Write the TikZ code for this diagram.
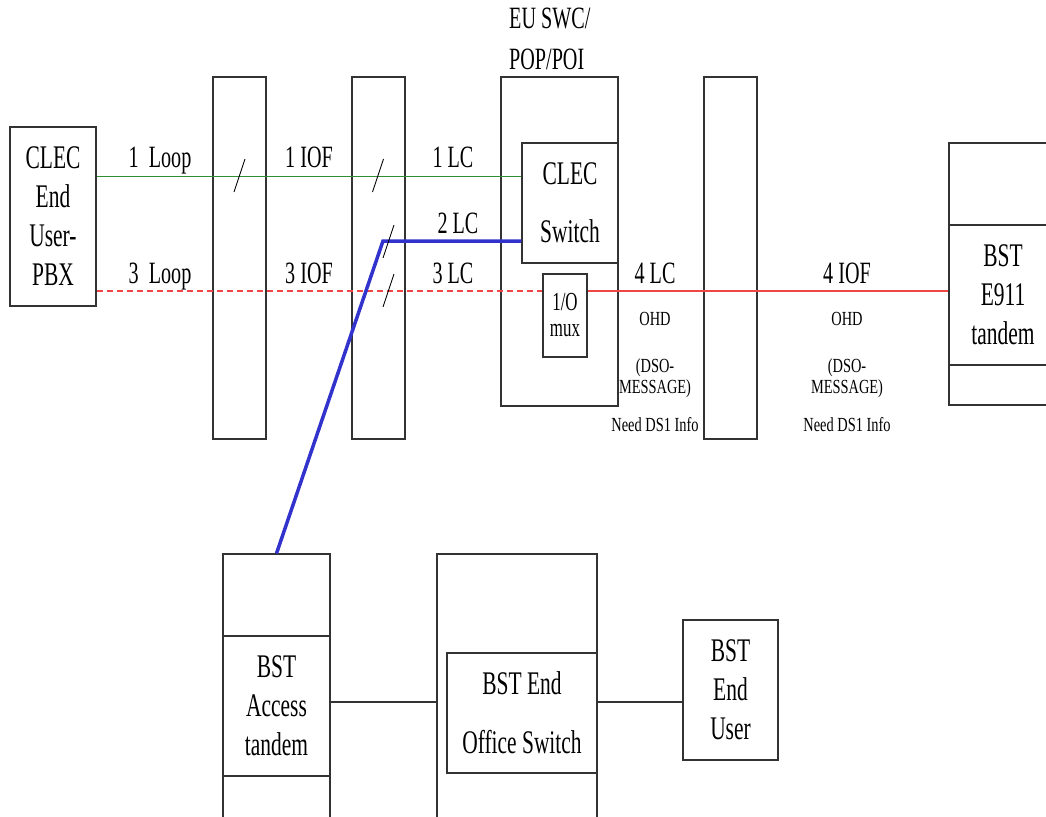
\documentclass[tikz,border=0pt]{standalone}
\usepackage{fontspec}
\setmainfont{Liberation Serif}[FakeStretch=0.65]
\newfontfamily\notefont{Liberation Serif}[FakeStretch=0.72]
\usetikzlibrary{positioning,calc}

\begin{document}
\begin{tikzpicture}[x=1pt,y=-1pt,
    box/.style={draw=black!80,line width=1.2pt,rectangle,inner sep=0pt,align=center,font=\fontsize{33}{39}\selectfont},
    lbl/.style={anchor=base,inner sep=0pt,font=\fontsize{31}{37}\selectfont},
    note/.style={anchor=base,inner sep=0pt,font=\notefont\fontsize{20}{24}\selectfont},
    wire/.style={draw=black!80,line width=1.2pt},
    loopA/.style={draw={rgb,255:red,50;green,140;blue,50},line width=1pt},
    loopB/.style={draw={rgb,255:red,240;green,70;blue,70},line width=1.6pt},
    trunk/.style={draw={rgb,255:red,50;green,50;blue,205},line width=3.5pt,line join=miter},
    slash/.style={draw=black,line width=0.9pt}]
    \useasboundingbox (0,0) rectangle (1046,816);
    \clip (0,0) rectangle (1046,816);

    % CLEC side
    \node[box,minimum width=86pt,minimum height=179pt] (eu) at (53,216.5) {CLEC\\End\\User-\\PBX};
    \node[box,minimum width=53pt,minimum height=362pt] (t1) at (239.5,258) {};
    \node[box,minimum width=53pt,minimum height=362pt] (t2) at (378.5,258) {};

    % EU SWC/POP/POI
    \node[lbl,anchor=base west] (swctitle) at (509,29) {EU SWC/};
    \node[lbl,anchor=base west] (poptitle) at (509,70) {POP/POI};
    \node[box,minimum width=117pt,minimum height=329pt] (swc) at (559.5,241.5) {};
    \node[box,minimum width=96pt,minimum height=120pt] (csw) at (570,203) {CLEC\\[19pt]Switch};
    \node[box,minimum width=44pt,minimum height=83pt,font=\fontsize{26}{26}\selectfont] (mux) at (565,315.5) {1/O\\mux};

    % towards E911
    \node[box,minimum width=53pt,minimum height=362pt] (t3) at (730.5,258) {};
    \node[box,minimum width=108pt,minimum height=262pt] (e911) at (1003,274) {};
    \node[box,minimum width=108pt,minimum height=140pt] (e911in) at (1003,295) {BST\\E911\\tandem};

    % BST side
    \node[box,minimum width=107pt,minimum height=296pt] (acc) at (276.5,702) {};
    \node[box,minimum width=107pt,minimum height=140pt] (accin) at (276.5,706) {BST\\Access\\tandem};
    \node[box,minimum width=160pt,minimum height=296pt] (eo) at (517,702) {};
    \node[box,minimum width=150pt,minimum height=120pt] (eoin) at (522,713) {BST End\\[20pt]Office Switch};
    \node[box,minimum width=95pt,minimum height=140pt] (user) at (730.5,690) {BST\\End\\User};

    % trunks
    \coordinate (g) at (0,176);
    \coordinate (r) at (0,291);
    \coordinate (bend) at (383,241);
    \draw[loopA] (eu.east |- g) -- (csw.west |- g);
    \draw[loopB,dash pattern=on 6pt off 4pt] (eu.east |- r) -- (mux.west |- r);
    \draw[loopB] (mux.east |- r) -- (e911.west |- r);
    \draw[trunk] (csw.west |- bend) -- (bend) -- (acc.north);
    \draw[wire] (acc.east) -- (eo.west);
    \draw[wire] (eo.east) -- (eo.east -| user.west);

    % slashes
    \foreach \p in {(239.5,175.5),(378,175.5),(388.5,241.5),(388.5,290.5)}
        \draw[slash] \p ++(-5.5,16.5) -- ++(11,-33);

    % trunk labels
    \node[lbl] (l1) at (160,167) {1\ \ Loop};
    \node[lbl] (i1) at (309,167) {1 IOF};
    \node[lbl] (c1) at (453,167) {1 LC};
    \node[lbl] (c2) at (458,233) {2 LC};
    \node[lbl] (l3) at (160,283) {3\ \ Loop};
    \node[lbl] (i3) at (309,283) {3 IOF};
    \node[lbl] (c3) at (453,283) {3 LC};
    \node[lbl] (c4) at (655,283) {4 LC};
    \node[lbl] (i4) at (847,283) {4 IOF};

    % notes
    \node[note] (ohdA) at (655,325) {OHD};
    \node[note] (dsoA) at (655,372) {(DSO-};
    \node[note] (msgA) at (655,393) {MESSAGE)};
    \node[note] (ds1A) at (655,431) {Need DS1 Info};
    \node[note] (ohdB) at (847,325) {OHD};
    \node[note] (dsoB) at (847,372) {(DSO-};
    \node[note] (msgB) at (847,393) {MESSAGE)};
    \node[note] (ds1B) at (847,431) {Need DS1 Info};
\end{tikzpicture}
\end{document}
